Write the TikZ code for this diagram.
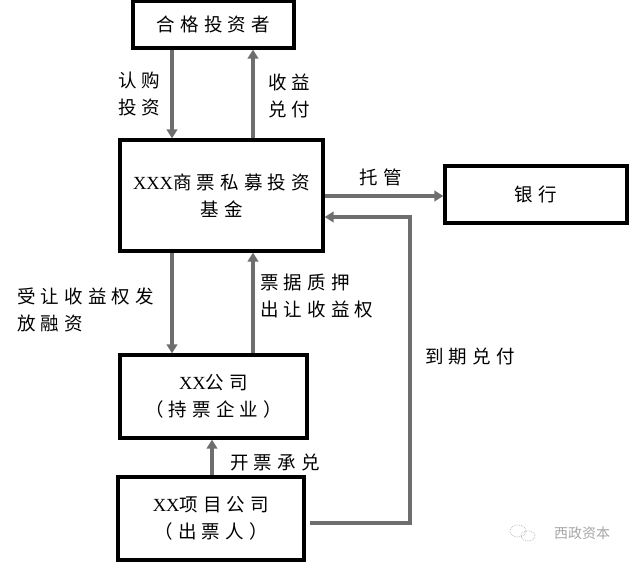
\documentclass[tikz,border=0pt]{standalone}
\usepackage{fontspec}
\usetikzlibrary{arrows.meta}
\newfontfamily\cjk[LetterSpace=28]{Noto Sans CJK SC}
\newfontfamily\lat{Liberation Serif}
\newfontfamily\wm{Noto Sans CJK SC}
\definecolor{arrgray}{HTML}{6E6E6E}
\tikzset{
  box/.style={draw=black, line width=3.2pt, fill=white, inner sep=0pt, align=center,
              font=\cjk\fontsize{18.5}{27.5}\selectfont},
  arr/.style={draw=arrgray, line width=3.4pt, -{Triangle[length=9pt,width=10.5pt]}},
  lbl/.style={inner sep=0pt, align=left, font=\cjk\fontsize{18.5}{27}\selectfont},
}
\begin{document}
\begin{tikzpicture}[x=1pt,y=-1pt]
\useasboundingbox (0,0) rectangle (630,562);
% boxes
\node[box, minimum width=161pt, minimum height=47pt] (b1) at (213.5,24.5) {合格投资者};
\node[box, minimum width=203pt, minimum height=111pt] (b2) at (221.5,195.5) {{\lat XXX}商票私募投资\\基金};
\node[box, minimum width=182pt, minimum height=57pt] (bk) at (536,194.5) {银行};
\node[box, minimum width=187pt, minimum height=83pt] (b3) at (213.5,396.5) {{\lat XX}公司\\（持票企业）};
\node[box, minimum width=186pt, minimum height=83pt] (b5) at (211,518.5) {{\lat XX}项目公司\\（出票人）};
% connectors
\draw[arr] (b1.south -| 172,0) -- (b2.north -| 172,0);
\draw[arr] (b2.north -| 253,0) -- (b1.south -| 253,0);
\draw[arr] (b2.east |- 0,196) -- (bk.west |- 0,196);
\draw[arr] (b2.south -| 172,0) -- (b3.north -| 172,0);
\draw[arr] (b3.north -| 253,0) -- (b2.south -| 253,0);
\draw[arr] (b5.north -| 212,0) -- (b3.south -| 212,0);
\coordinate (c1) at (410,523);
\coordinate (c2) at (410,217);
\draw[arr] (b5.east |- 0,523) [shorten <=4pt] -- (c1) -- (c2) -- (b2.east |- c2);
% labels
\node[lbl, anchor=west] (l1) at (118,94) {认购\\投资};
\node[lbl, anchor=west] (l2) at (268,96) {收益\\兑付};
\node[lbl, anchor=center] (l3) at (381,177) {托管};
\node[lbl, anchor=west] (l4) at (17,310) {受让收益权发\\放融资};
\node[lbl, anchor=west] (l5) at (260,296) {票据质押\\出让收益权};
\node[lbl, anchor=center] (l6) at (470,357) {到期兑付};
\node[lbl, anchor=west] (l7) at (230,463) {开票承兑};
% watermark
\draw[gray!50, densely dotted, line width=0.8pt] (518,531) ellipse (8pt and 6pt);
\draw[gray!50, densely dotted, line width=0.8pt] (528,536) ellipse (7pt and 5pt);
\node[inner sep=0pt, text=gray!70, font=\wm\fontsize{14}{14}\selectfont] (wm) at (582,533) {西政资本};
\end{tikzpicture}
\end{document}
